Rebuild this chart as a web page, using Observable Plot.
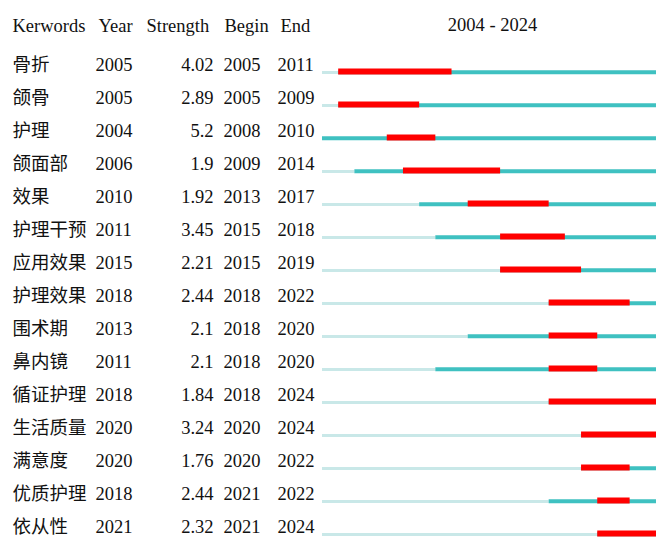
<!DOCTYPE html>
<html>
<head>
<meta charset="utf-8">
<script src="https://cdn.jsdelivr.net/npm/d3@7"></script>
<script src="https://cdn.jsdelivr.net/npm/@observablehq/plot@0.6"></script>
<style>
  html, body { margin: 0; padding: 0; background: #fff; }
  svg { display: block; }
</style>
</head>
<body>
<div id="chart"></div>
<script>
const keywords = ["骨折","颌骨","护理","颌面部","效果","护理干预","应用效果","护理效果","围术期","鼻内镜","循证护理","生活质量","满意度","优质护理","依从性"];
const years = [2005,2005,2004,2006,2010,2011,2015,2018,2013,2011,2018,2020,2020,2018,2021];
const strengths = [4.02,2.89,5.2,1.9,1.92,3.45,2.21,2.44,2.1,2.1,1.84,3.24,1.76,2.44,2.32];
const begins = [2005,2005,2008,2009,2013,2015,2015,2018,2018,2018,2018,2020,2020,2021,2021];
const ends = [2011,2009,2010,2014,2017,2018,2019,2022,2020,2020,2024,2024,2022,2022,2024];
const headers = ["Kerwords","Year","Strength","Begin","End"];
const periodStart = 2004, periodEnd = 2024;
const periodLabel = `${periodStart} - ${periodEnd}`;

const rows = keywords.map((kw, i) => ({kw, year: years[i], strength: strengths[i], begin: begins[i], end: ends[i]}));

const font = "'Liberation Serif', 'Times New Roman', 'Noto Sans CJK SC', serif";
const fs = 18.5;
const ink = "#111";
const light = "#c9e8e8";
const teal = "#3fc1c1";
const red = "#ff0000";
const textDy = -6.5;

// header column offsets (styles)
const headerX = [12, 98, 146, 224, 280];

const marks = [];
headers.forEach((h, i) => {
  marks.push(Plot.text([h], {frameAnchor: "top-left", dx: headerX[i], dy: 26, textAnchor: "start", lineAnchor: "middle", fill: ink}));
});
marks.push(Plot.text([periodLabel], {x: () => (periodStart + periodEnd + 1) / 2, frameAnchor: "top", dy: 25, textAnchor: "middle", lineAnchor: "middle", fill: ink}));

// table columns
marks.push(Plot.text(rows, {y: "kw", text: "kw", frameAnchor: "left", dx: 12, dy: textDy, textAnchor: "start", lineAnchor: "middle", fill: ink, fontSize: 18.5}));
marks.push(Plot.text(rows, {y: "kw", text: d => String(d.year), frameAnchor: "left", dx: 95, dy: textDy, textAnchor: "start", lineAnchor: "middle", fill: ink}));
marks.push(Plot.text(rows, {y: "kw", text: d => String(d.strength), frameAnchor: "left", dx: 213, dy: textDy, textAnchor: "end", lineAnchor: "middle", fill: ink}));
marks.push(Plot.text(rows, {y: "kw", text: d => String(d.begin), frameAnchor: "left", dx: 223, dy: textDy, textAnchor: "start", lineAnchor: "middle", fill: ink}));
marks.push(Plot.text(rows, {y: "kw", text: d => String(d.end), frameAnchor: "left", dx: 277, dy: textDy, textAnchor: "start", lineAnchor: "middle", fill: ink}));

// timeline segments
marks.push(Plot.ruleY(rows.filter(d => d.year > periodStart), {y: "kw", x1: () => periodStart, x2: "year", stroke: light, strokeWidth: 3, dy: 1}));
marks.push(Plot.ruleY(rows, {y: "kw", x1: "year", x2: () => periodEnd + 1, stroke: teal, strokeWidth: 4, dy: 0.8}));
marks.push(Plot.ruleY(rows, {y: "kw", x1: "begin", x2: d => d.end + 1, stroke: red, strokeWidth: 6}));

const chart = Plot.plot({
  width: 656,
  height: 540,
  marginTop: 0, marginBottom: 0, marginLeft: 0, marginRight: 0,
  style: {fontFamily: font, fontSize: fs + "px", background: "#fff", overflow: "hidden"},
  x: {domain: [periodStart, periodEnd + 1], range: [322, 662], axis: null},
  y: {type: "point", domain: keywords, range: [65.5, 537.6], padding: 0, axis: null},
  marks
});
document.getElementById("chart").appendChild(chart);
</script>
</body>
</html>
